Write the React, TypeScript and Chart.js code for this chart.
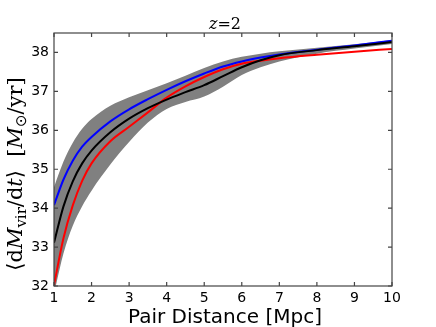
import React, { useEffect, useRef } from "react";
import { Chart, registerables } from "chart.js";

Chart.register(...registerables);

const distance = [1, 1.25, 1.5, 1.75, 2, 2.5, 3, 3.5, 4, 4.5, 5, 5.5, 6, 6.5, 7, 8, 9, 10];
const blueVals = [34.08, 34.73, 35.22, 35.58, 35.83, 36.23, 36.54, 36.8, 37.04, 37.26, 37.46, 37.64, 37.77, 37.87, 37.95, 38.07, 38.18, 38.3];
const blackVals = [33.11, 34.04, 34.69, 35.15, 35.48, 35.95, 36.3, 36.57, 36.79, 36.98, 37.16, 37.39, 37.62, 37.8, 37.93, 38.06, 38.16, 38.27];
const redVals = [32.02, 33.22, 34.07, 34.7, 35.15, 35.72, 36.09, 36.46, 36.84, 37.13, 37.37, 37.57, 37.71, 37.79, 37.85, 37.94, 38.02, 38.09];
const bandUpper = [34.54, 35.19, 35.68, 36.04, 36.29, 36.63, 36.85, 37.03, 37.21, 37.4, 37.6, 37.77, 37.89, 37.97, 38.03, 38.12, 38.21, 38.32];
const bandLower = [31.8, 32.83, 33.55, 34.05, 34.45, 35.12, 35.7, 36.2, 36.55, 36.73, 36.87, 37.12, 37.42, 37.62, 37.77, 37.97, 38.1, 38.22];
const xTicks = [1, 2, 3, 4, 5, 6, 7, 8, 9, 10];
const yTicks = [32, 33, 34, 35, 36, 37, 38];

const pts = (vals: number[]) => distance.map((d, i) => ({ x: d, y: vals[i] }));

const frameAndText = {
  id: "frameAndText",
  afterDraw(chart: any) {
    const { ctx, chartArea } = chart;
    const xs = chart.scales.x;
    const ys = chart.scales.y;
    const { left, right, top, bottom } = chartArea;
    ctx.save();
    ctx.strokeStyle = "#444";
    ctx.lineWidth = 1.2;
    ctx.strokeRect(left, top, right - left, bottom - top);
    const tl = 4;
    ctx.beginPath();
    xTicks.forEach((v) => {
      const px = xs.getPixelForValue(v);
      ctx.moveTo(px, bottom);
      ctx.lineTo(px, bottom - tl);
      ctx.moveTo(px, top);
      ctx.lineTo(px, top + tl);
    });
    yTicks.forEach((v) => {
      const py = ys.getPixelForValue(v);
      ctx.moveTo(left, py);
      ctx.lineTo(left + tl, py);
      ctx.moveTo(right, py);
      ctx.lineTo(right - tl, py);
    });
    ctx.stroke();

    // title z=2
    ctx.fillStyle = "#000";
    ctx.textBaseline = "alphabetic";
    const cx = (left + right) / 2;
    const parts1: [string, string][] = [
      ["z", "italic 16px 'DejaVu Serif'"],
      ["=2", "16px 'DejaVu Serif'"],
    ];
    let w = 0;
    parts1.forEach(([t, f]) => {
      ctx.font = f;
      w += ctx.measureText(t).width;
    });
    let x0 = cx - w / 2 + 2;
    parts1.forEach(([t, f]) => {
      ctx.font = f;
      ctx.fillText(t, x0, 29);
      x0 += ctx.measureText(t).width;
    });

    // x label
    ctx.font = "20px 'DejaVu Sans'";
    ctx.textAlign = "center";
    ctx.fillText("Pair Distance [Mpc]", cx + 2, 323);
    ctx.textAlign = "left";

    // y label (rotated)
    const fs = 21;
    const segs: [string, string, number][] = [
      ["\u27E8", `${fs}px 'DejaVu Serif'`, 0],
      ["d", `${fs}px 'DejaVu Serif'`, 0],
      ["M", `italic ${fs}px 'DejaVu Serif'`, 0],
      ["vir", `${Math.round(fs * 0.7)}px 'DejaVu Serif'`, 4],
      ["/d", `${fs}px 'DejaVu Serif'`, 0],
      ["t", `italic ${fs}px 'DejaVu Serif'`, 0],
      ["\u27E9", `${fs}px 'DejaVu Serif'`, 0],
      ["  [", `${fs}px 'DejaVu Serif'`, 0],
      ["M", `italic ${fs}px 'DejaVu Serif'`, 0],
      ["\u2299", `${Math.round(fs * 0.7)}px 'DejaVu Sans'`, 4],
      ["/yr]", `${fs}px 'DejaVu Serif'`, 0],
    ];
    let tw = 0;
    segs.forEach(([t, f]) => {
      ctx.font = f;
      tw += ctx.measureText(t).width;
    });
    ctx.translate(22, 174);
    ctx.rotate(-Math.PI / 2);
    let sx = -tw / 2;
    segs.forEach(([t, f, dy]) => {
      ctx.font = f;
      ctx.fillText(t, sx, dy);
      sx += ctx.measureText(t).width;
    });
    ctx.restore();
  },
};

export default function App() {
  const ref = useRef<HTMLCanvasElement>(null);
  useEffect(() => {
    if (!ref.current) return;
    const line = (vals: number[], color: string, order: number) => ({
      data: pts(vals),
      borderColor: color,
      backgroundColor: color,
      borderWidth: 2,
      pointRadius: 0,
      cubicInterpolationMode: "monotone" as const,
      fill: false,
      order,
    });
    const chart = new Chart(ref.current, {
      type: "line",
      data: {
        datasets: [
          line(blackVals, "#000000", 0),
          line(redVals, "#ff0000", 1),
          line(blueVals, "#0000ff", 2),
          {
            data: pts(bandUpper),
            borderWidth: 0,
            borderColor: "rgba(0,0,0,0)",
            backgroundColor: "#808080",
            pointRadius: 0,
            cubicInterpolationMode: "monotone" as const,
            fill: { target: 4 },
            order: 10,
          },
          {
            data: pts(bandLower),
            borderWidth: 0,
            borderColor: "rgba(0,0,0,0)",
            backgroundColor: "#808080",
            pointRadius: 0,
            cubicInterpolationMode: "monotone" as const,
            fill: false,
            order: 11,
          },
        ],
      },
      options: {
        animation: false,
        responsive: false,
        maintainAspectRatio: false,
        layout: { padding: { top: 33, right: 44, left: 0, bottom: 0 } },
        plugins: { legend: { display: false }, tooltip: { enabled: false }, title: { display: false } },
        scales: {
          x: {
            type: "linear",
            min: 1,
            max: 10,
            afterFit: (s: any) => {
              s.height = 41;
            },
            grid: { display: false, drawTicks: false },
            border: { display: false },
            ticks: {
              stepSize: 1,
              padding: 4,
              color: "#000",
              font: { family: "'DejaVu Sans'", size: 14 },
              maxRotation: 0,
            },
          },
          y: {
            type: "linear",
            min: 32,
            max: 38.5,
            afterFit: (s: any) => {
              s.width = 54;
            },
            grid: { display: false, drawTicks: false },
            border: { display: false },
            ticks: {
              stepSize: 1,
              includeBounds: false,
              padding: 5,
              color: "#000",
              font: { family: "'DejaVu Sans'", size: 14 },
            },
          },
        },
      },
      plugins: [frameAndText],
    });
    return () => chart.destroy();
  }, []);
  return (
    <div style={{ position: "absolute", left: 0, top: 0, width: 436, height: 327, background: "#fff" }}>
      <canvas ref={ref} width={436} height={327} style={{ width: 436, height: 327 }} />
    </div>
  );
}
